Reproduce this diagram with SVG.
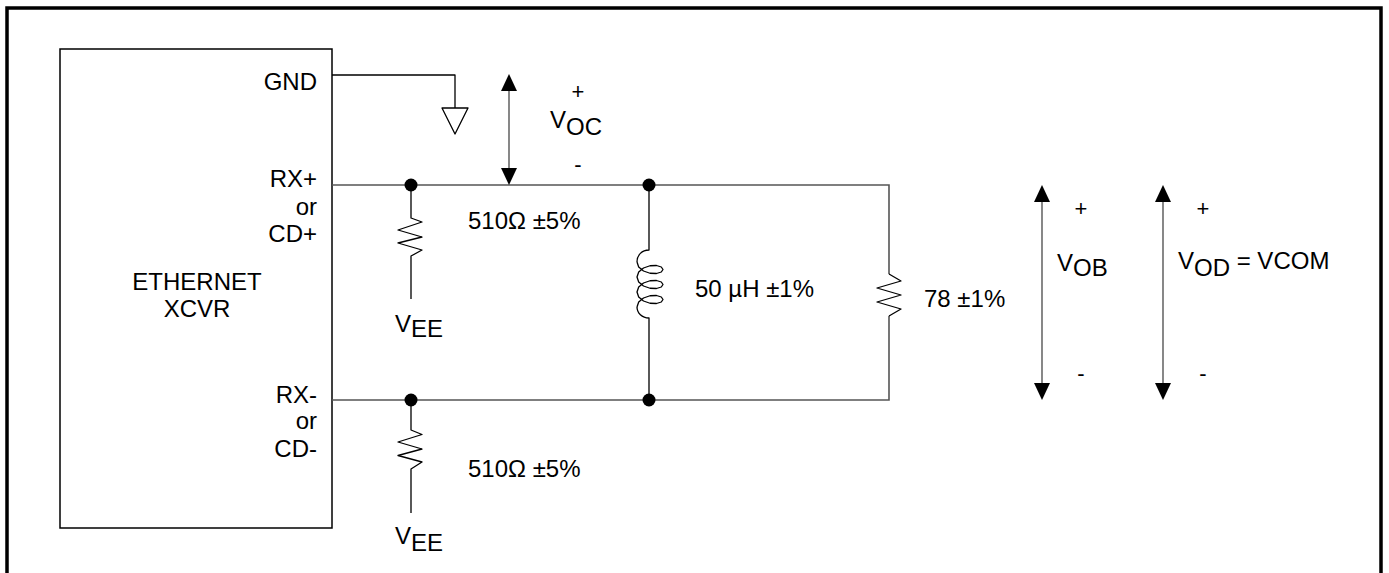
<svg xmlns="http://www.w3.org/2000/svg" width="1389" height="573" viewBox="0 0 1389 573">
<style>
text{font-family:"Liberation Sans",Arial,sans-serif;font-size:24px;fill:#000}
.e{text-anchor:end}
.m{text-anchor:middle}
.s{font-size:22px}
.w{fill:none;stroke:#000;stroke-width:1.3;stroke-linejoin:round}
.r{fill:none;stroke:#555;stroke-width:1.6}
.a{fill:none;stroke:#555;stroke-width:1.4}
.dot{fill:#000}
.hd{fill:#000}
</style>
<rect width="1389" height="573" fill="#fff"/>
<path d="M7,573 V8 H1381 V573" fill="none" stroke="#000" stroke-width="3.5"/>

<g id="xcvr">
<rect x="60" y="49" width="272" height="479" fill="none" stroke="#000" stroke-width="1.5"/>
<text x="197" y="290" class="m">ETHERNET</text>
<text x="197" y="317" class="m">XCVR</text>
<text x="317" y="90" class="e">GND</text>
<text x="317" y="187" class="e">RX+</text>
<text x="317" y="215" class="e">or</text>
<text x="317" y="242" class="e">CD+</text>
<text x="317" y="403" class="e">RX-</text>
<text x="317" y="429" class="e">or</text>
<text x="317" y="457" class="e">CD-</text>
</g>

<g id="ground">
<path class="w" d="M332,75 H455 V108"/>
<path class="w" d="M442,108 H468 L455,134 Z"/>
</g>

<g id="connectors">
<path class="r" d="M332,185 H889 V274"/>
<path class="r" d="M332,400 H889 V316"/>
<circle class="dot" cx="411" cy="185" r="6.5"/>
<circle class="dot" cx="649" cy="185" r="6.5"/>
<circle class="dot" cx="411" cy="400" r="6.5"/>
<circle class="dot" cx="649" cy="400" r="6.5"/>
</g>

<g id="r1">
<polyline class="w" points="411,185 411,218 422,222 398,230 422,237 398,243 422,250 411,256 411,299"/>
<text x="468" y="229">510Ω ±5%</text>
<text x="395" y="332">V<tspan dy="5">EE</tspan></text>
</g>

<g id="r2">
<polyline class="w" points="411,400 411,430 422,434.5 398,442 422,449 398,455.5 422,462 411,469 411,513"/>
<text x="468" y="477">510Ω ±5%</text>
<text x="395" y="544">V<tspan dy="7">EE</tspan></text>
</g>

<g id="inductor">
<path class="w" d="M649,185 V250 C642,250 637,255 637,262"/>
<polyline class="w" points="637,262 638.7,267 643.5,271 650,273.25 656.5,273.5 661.3,272 663,269.5 661.3,267 656.5,265.5 650,265.75 643.5,268 638.7,272 637,277 638.7,282 643.5,286 650,288.25 656.5,288.5 661.3,287 663,284.5 661.3,282 656.5,280.5 650,280.75 643.5,283 638.7,287 637,292 638.7,297 643.5,301 650,303.25 656.5,303.5 661.3,302 663,299.5 661.3,297 656.5,295.5 650,295.75 643.5,298 638.7,302 637,307"/>
<path class="w" d="M637,307 C637,313 642,318 649,318 V400"/>
<text x="695" y="297">50 µH ±1%</text>
</g>

<g id="r3">
<polyline class="w" points="889,274 901,281 877,288 901,295 877,302 901,309 889,316"/>
<text x="924" y="307">78 ±1%</text>
</g>

<g id="voc">
<line class="a" x1="509" y1="88" x2="509" y2="171"/>
<path class="hd" d="M509,74 L517,91 L501,91 Z"/>
<path class="hd" d="M509,185 L517,168 L501,168 Z"/>
<text x="578" y="99" class="m s">+</text>
<text x="550" y="128">V<tspan dy="7">OC</tspan></text>
<text x="578" y="172" class="m s">-</text>
</g>

<g id="vob">
<line class="a" x1="1042" y1="198" x2="1042" y2="386"/>
<path class="hd" d="M1042,185 L1050,202 L1034,202 Z"/>
<path class="hd" d="M1042,400 L1050,383 L1034,383 Z"/>
<text x="1081" y="216" class="m s">+</text>
<text x="1057" y="271">V<tspan dy="5">OB</tspan></text>
<text x="1081" y="381" class="m s">-</text>
</g>

<g id="vod">
<line class="a" x1="1163" y1="198" x2="1163" y2="386"/>
<path class="hd" d="M1163,185 L1171,202 L1155,202 Z"/>
<path class="hd" d="M1163,400 L1171,383 L1155,383 Z"/>
<text x="1203" y="216" class="m s">+</text>
<text x="1178" y="269">V<tspan dy="7">OD</tspan><tspan dy="-7"> = VCOM</tspan></text>
<text x="1203" y="381" class="m s">-</text>
</g>
</svg>
